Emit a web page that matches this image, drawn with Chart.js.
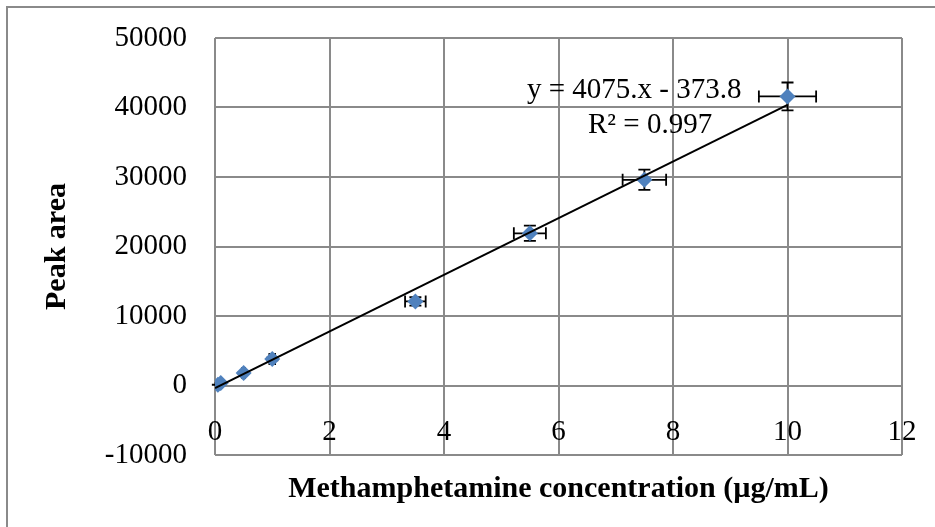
<!DOCTYPE html>
<html>
<head>
<meta charset="utf-8">
<script src="https://cdn.jsdelivr.net/npm/chart.js@4"></script>
<style>
  html, body { margin: 0; padding: 0; background: #fff; }
  #wrap { width: 935px; height: 527px; }
</style>
</head>
<body>
<div id="wrap"><canvas id="calChart"></canvas></div>
<script>
// calibration points
const concentration = [0.05, 0.1, 0.5, 1, 3.5, 5.5, 7.5, 10];
const peakArea = [100, 350, 1800, 3800, 12100, 21900, 29600, 41600];
const xErr = [0.003, 0.005, 0.025, 0.05, 0.18, 0.28, 0.38, 0.5];
const yErr = [5, 20, 90, 190, 600, 1100, 1450, 2000];

// linear trendline y = 4075.x - 373.8, end points
const trendX = [0, 10];
const trendY = [-373.8, 40376.2];
const trendLabel = ["y = 4075.x - 373.8", "R\u00b2 = 0.997"];

const xTicks = [0, 2, 4, 6, 8, 10, 12];
const yTicks = [-10000, 0, 10000, 20000, 30000, 40000, 50000];

const serif = "'Liberation Serif', 'Times New Roman', serif";
const gridColor = "#8a8a8a";

const errorBars = {
  id: "errorBars",
  beforeDatasetsDraw(chart) {
    const { ctx, scales: { x, y } } = chart;
    ctx.save();
    ctx.strokeStyle = "#000";
    ctx.lineWidth = 1.8;
    const cap = 6;
    concentration.forEach((c, i) => {
      const px = x.getPixelForValue(c);
      const py = y.getPixelForValue(peakArea[i]);
      const xl = x.getPixelForValue(c - xErr[i]);
      const xr = x.getPixelForValue(c + xErr[i]);
      const yt = y.getPixelForValue(peakArea[i] + yErr[i]);
      const yb = y.getPixelForValue(peakArea[i] - yErr[i]);
      ctx.beginPath();
      ctx.moveTo(xl, py); ctx.lineTo(xr, py);
      ctx.moveTo(xl, py - cap); ctx.lineTo(xl, py + cap);
      ctx.moveTo(xr, py - cap); ctx.lineTo(xr, py + cap);
      ctx.moveTo(px, yt); ctx.lineTo(px, yb);
      ctx.moveTo(px - cap, yt); ctx.lineTo(px + cap, yt);
      ctx.moveTo(px - cap, yb); ctx.lineTo(px + cap, yb);
      ctx.stroke();
    });
    ctx.restore();
  }
};

const frameAndLabel = {
  id: "frameAndLabel",
  beforeDraw(chart) {
    const ctx = chart.ctx;
    ctx.save();
    ctx.strokeStyle = gridColor;
    ctx.lineWidth = 2;
    ctx.beginPath();
    ctx.moveTo(7, chart.height + 5);
    ctx.lineTo(7, 7);
    ctx.lineTo(chart.width + 5, 7);
    ctx.stroke();
    ctx.restore();
  },
  afterDraw(chart) {
    const ctx = chart.ctx;
    ctx.save();
    ctx.fillStyle = "#000";
    ctx.font = "29px " + serif;
    ctx.textBaseline = "middle";
    ctx.textAlign = "left";
    ctx.fillText(trendLabel[0], 527, 90);
    ctx.fillText(trendLabel[1], 588, 125);
    ctx.restore();
  }
};

new Chart(document.getElementById("calChart"), {
  type: "scatter",
  data: {
    datasets: [
      {
        type: "line",
        label: "Linear",
        data: trendX.map((v, i) => ({ x: v, y: trendY[i] })),
        borderColor: "#000",
        borderWidth: 2,
        pointRadius: 0,
        fill: false
      },
      {
        label: "Peak area",
        data: concentration.map((v, i) => ({ x: v, y: peakArea[i] })),
        pointStyle: "rectRot",
        pointRadius: 8,
        backgroundColor: "#4f81bd",
        borderColor: "#4f81bd",
        borderWidth: 0
      }
    ]
  },
  options: {
    responsive: true,
    maintainAspectRatio: false,
    animation: false,
    layout: { padding: { left: 30, top: 38, right: 33, bottom: 0 } },
    plugins: {
      legend: { display: false },
      tooltip: { enabled: false }
    },
    scales: {
      x: {
        type: "linear",
        min: 0,
        max: 12,
        afterBuildTicks: s => { s.ticks = xTicks.map(v => ({ value: v })); },
        afterFit: s => { s.height = 72; },
        grid: { color: gridColor, lineWidth: 2, drawTicks: false },
        border: { display: false },
        ticks: {
          color: "#000",
          font: { family: serif, size: 29 },
          mirror: true,
          padding: 5,
          maxRotation: 0,
          callback: v => String(v)
        },
        title: {
          display: true,
          text: "Methamphetamine concentration (\u00b5g/mL)",
          color: "#000",
          font: { family: serif, size: 30, weight: "bold" },
          padding: { top: 0, bottom: 20 }
        }
      },
      y: {
        type: "linear",
        min: -10000,
        max: 50000,
        afterBuildTicks: s => { s.ticks = yTicks.map(v => ({ value: v })); },
        afterFit: s => { s.width = 185; s.paddingTop = 0; s.paddingBottom = 0; },
        grid: { color: gridColor, lineWidth: 2, drawTicks: false },
        border: { display: false },
        ticks: {
          color: "#000",
          font: { family: serif, size: 29 },
          padding: 28,
          callback: v => String(v)
        },
        title: {
          display: true,
          text: "Peak area",
          color: "#000",
          font: { family: serif, size: 30, weight: "bold" },
          padding: { top: 9, bottom: 0 }
        }
      }
    }
  },
  plugins: [errorBars, frameAndLabel]
});
</script>
</body>
</html>
